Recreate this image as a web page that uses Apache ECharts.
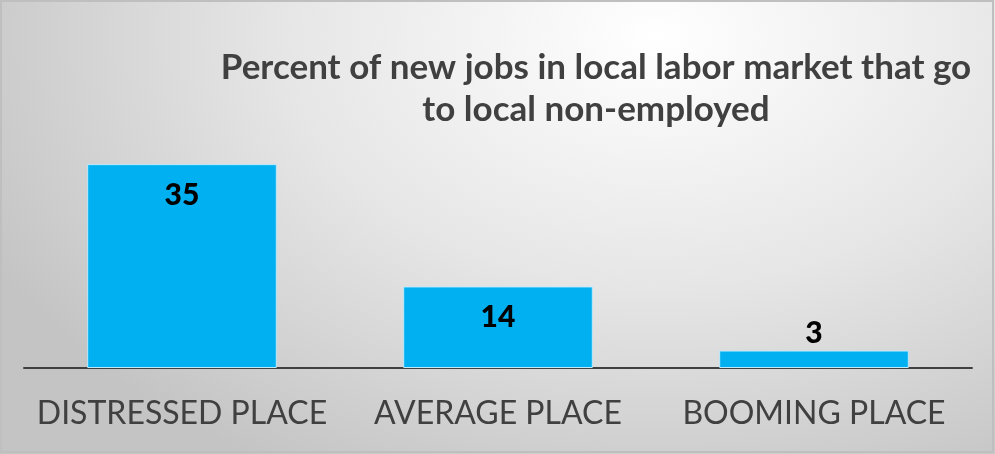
<!DOCTYPE html>
<html><head><meta charset="utf-8">
<script src="https://cdn.jsdelivr.net/npm/echarts@6/dist/echarts.min.js"></script>
<style>
html,body{margin:0;padding:0;}
#c{width:995px;height:454px;background:radial-gradient(ellipse 75% 110% at 66% 8%, #ffffff 0%, #e6e6e6 50%, #c4c4c4 100%);}
</style></head>
<body><div id="c"></div>
<script>
const categories = ['DISTRESSED PLACE', 'AVERAGE PLACE', 'BOOMING PLACE'];
const values = [35, 14, 3];
const titleText = 'Percent of new jobs in local labor market that go\nto local non-employed';

const chart = echarts.init(document.getElementById('c'));
chart.setOption({
  backgroundColor: 'transparent',
  animation: false,
  title: {
    text: titleText,
    left: 591, top: 42, textAlign: 'center',
    textStyle: {fontFamily: 'Lato', fontWeight: 'bold', fontSize: 35, lineHeight: 42, color: '#404040'}
  },
  graphic: [{type: 'rect', shape: {x: 1, y: 1, width: 992, height: 451}, style: {fill: 'none', stroke: '#bfbfbf', lineWidth: 2}}],
  grid: {left: 24, right: 23, top: 135, bottom: 86},
  xAxis: {
    type: 'category', data: categories,
    axisLine: {lineStyle: {color: '#404040', width: 2}},
    axisTick: {show: false},
    axisLabel: {fontFamily: 'Lato', fontSize: 32, color: '#404040', margin: 30, interval: 0}
  },
  yAxis: {type: 'value', min: 0, max: 40, show: false, splitLine: {show: false}},
  series: [{
    type: 'bar', barWidth: '60%',
    data: values.map((v, i) => ({
      value: v,
      label: i === 2 ? {position: 'top', distance: 2} : {position: 'insideTop', distance: 16}
    })),
    itemStyle: {color: '#00B0F0', borderColor: '#bfe9fb', borderWidth: 1},
    label: {show: true, fontFamily: 'Lato', fontWeight: 900, fontSize: 30, color: '#000'}
  }]
});
</script></body></html>
